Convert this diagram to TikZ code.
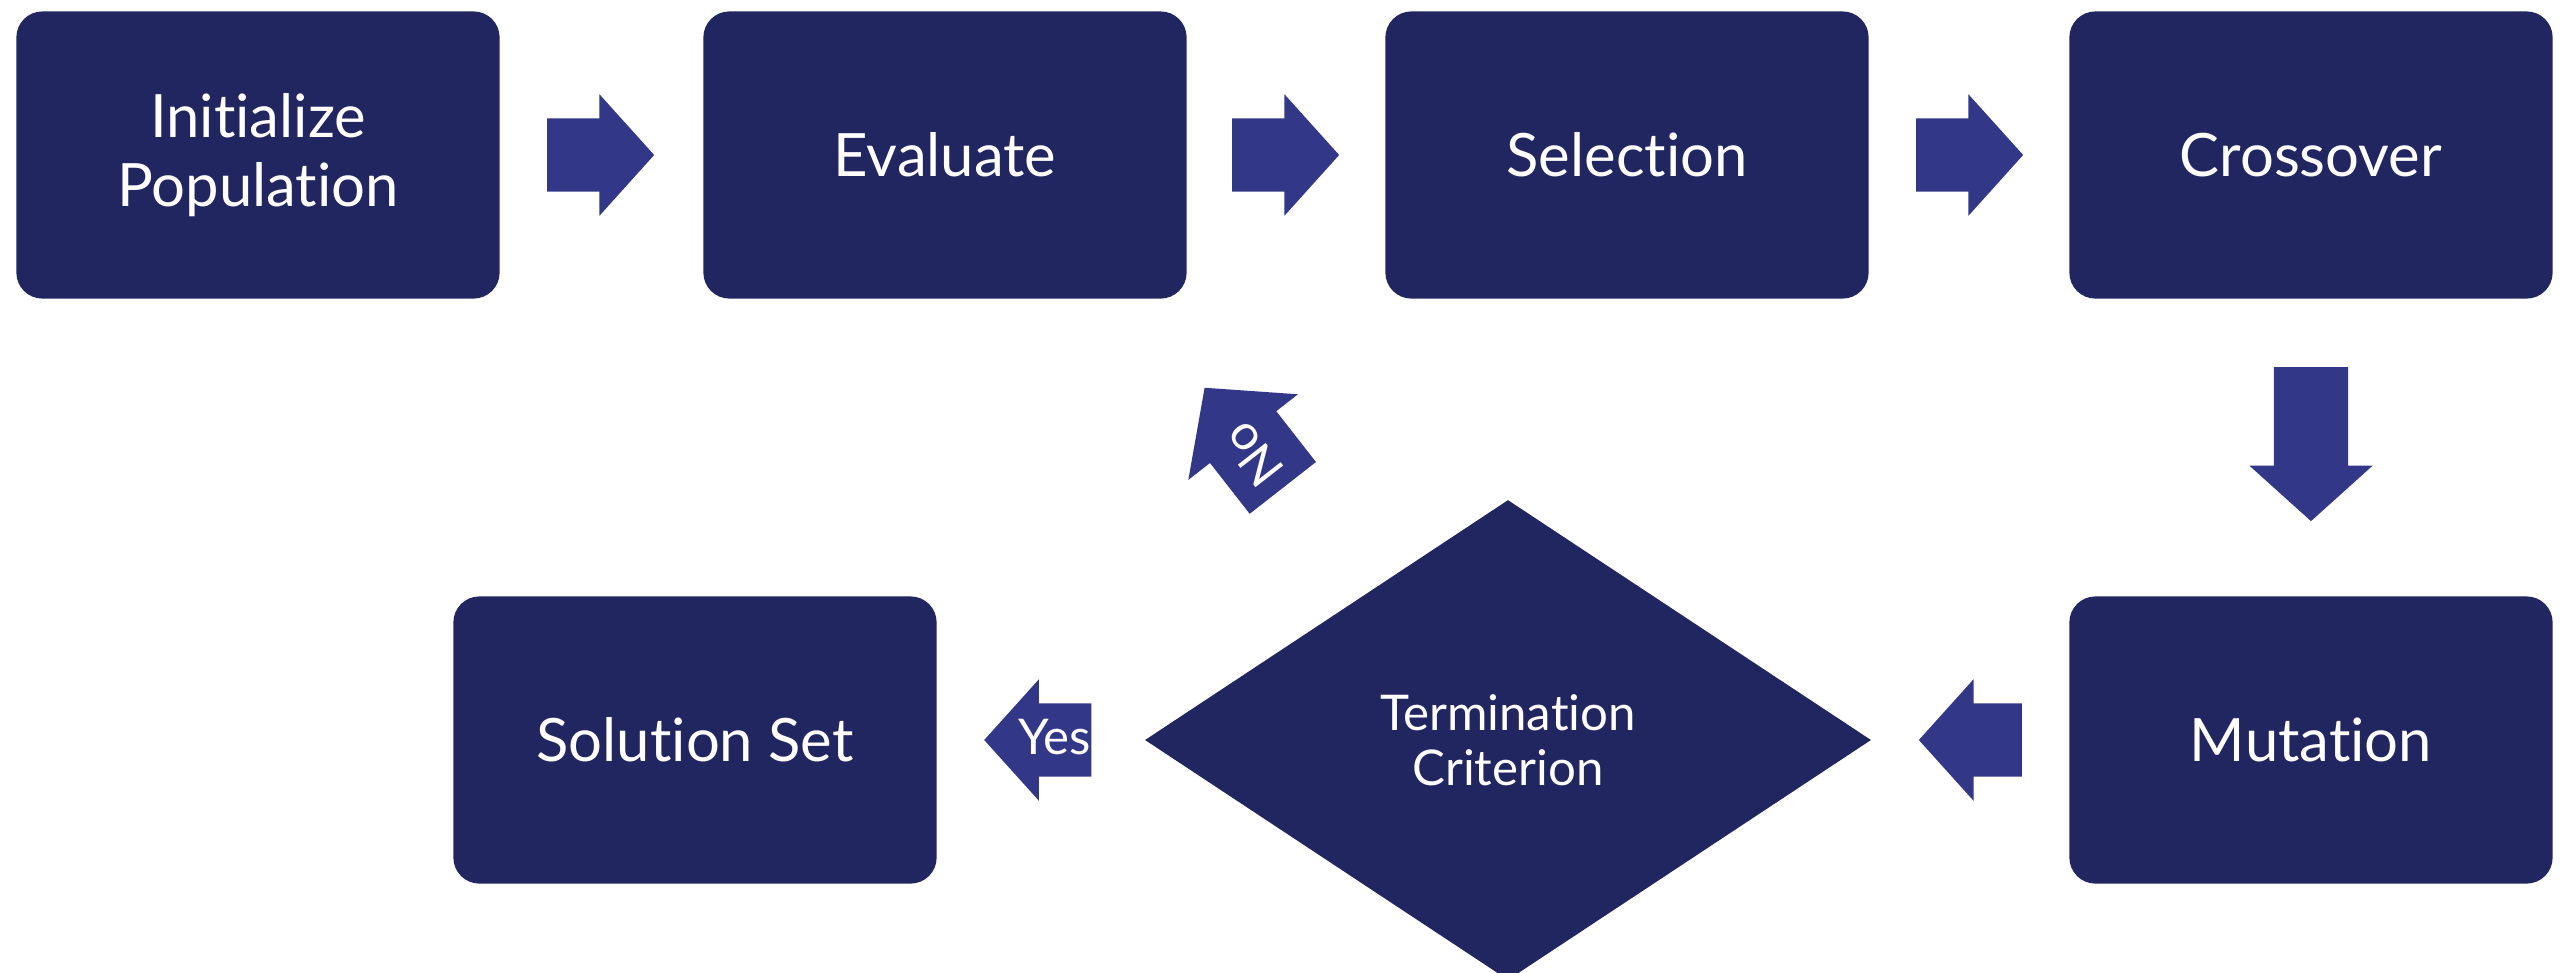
\documentclass[tikz,border=0pt]{standalone}
\usepackage{fontspec}
\setmainfont{Lato}[Ligatures=NoCommon]
\usetikzlibrary{positioning,shapes.geometric,shapes.arrows}

\definecolor{boxnavy}{RGB}{34,38,96}
\definecolor{arrownavy}{RGB}{50,55,135}

\tikzset{
  stepbox/.style={rectangle, rounded corners=0.26cm, fill=boxnavy, text=white,
    minimum width=4.83cm, minimum height=2.87cm, align=center,
    font=\fontsize{17}{19.5}\selectfont},
  decision/.style={diamond, fill=boxnavy, text=white, aspect=1.51,
    minimum width=7.26cm, minimum height=4.8cm, inner sep=0pt, align=center,
    font=\fontsize{14}{15.6}\selectfont},
  blockarrow/.style={single arrow, fill=arrownavy, text=white, inner sep=0pt,
    text height=0.5cm, text depth=0.22cm, minimum width=1.2cm,
    single arrow head extend=0.24cm, single arrow tip angle=96,
    minimum height=1.07cm, font=\fontsize{14}{16}\selectfont}
}

\begin{document}
\begin{tikzpicture}[x=0.01cm,y=-0.01cm]
	\useasboundingbox (0,0) rectangle (2574,972);
	% process steps
	\node[stepbox] (init) at (258,155) {Initialize\\Population};
	\node[stepbox] (eval) at (945,155) {Evaluate};
	\node[stepbox] (sel) at (1627,155) {Selection};
	\node[stepbox] (cross) at (2311,155) {Crossover};
	\node[stepbox] (mut) at (2311,740) {Mutation};
	\node[decision] (term) at (1508,740) {Termination\\Criterion};
	\node[stepbox] (sol) at (695,740) {Solution Set};
	% block arrows
	\node[blockarrow, right=0.46cm of init] (a1) {};
	\node[blockarrow, right=0.44cm of eval] (a2) {};
	\node[blockarrow, right=0.46cm of sel] (a3) {};
	\node[blockarrow, rotate=270, minimum height=1.54cm, minimum width=1.23cm, below=0.67cm of cross, anchor=tail] (a4) {};
	\node[blockarrow, shape border rotate=180, minimum height=1.03cm, left=0.46cm of mut] (a5) {};
	\node[blockarrow, shape border rotate=180, minimum height=1.03cm, left=0.52cm of term] (yes) {Yes};
	\node[blockarrow, rotate=128, minimum height=1.27cm, minimum width=1.39cm, anchor=tip] (no) at (1204,387) {No};
\end{tikzpicture}
\end{document}
